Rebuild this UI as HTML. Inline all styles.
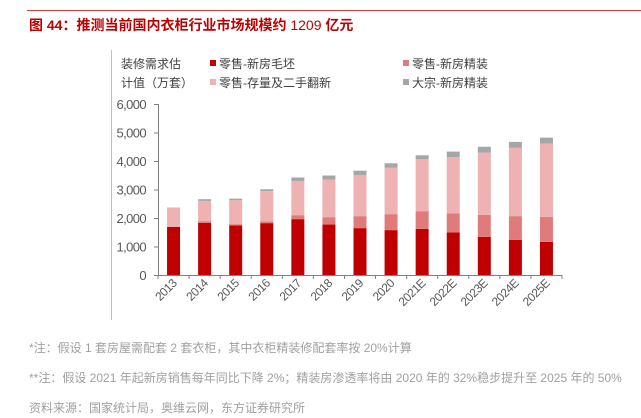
<!DOCTYPE html>
<html><head><meta charset="utf-8">
<style>
body{margin:0;width:641px;height:418px;background:#fff;overflow:hidden;font-family:"Liberation Sans","Noto Sans CJK SC",sans-serif;position:relative}
.t{position:absolute;white-space:nowrap}
</style></head><body>
<div style="position:absolute;left:27px;top:10px;width:614px;height:1px;background:#d9363e"></div>
<div class="t" style="left:29px;top:15px;font-size:14px;font-weight:bold;color:#c00000">图 44：推测当前国内衣柜行业市场规模约 <span style="font-weight:normal">1209</span> 亿元</div>
<svg width="641" height="418" style="position:absolute;left:0;top:0" id="svg"></svg>
<div class="t" style="left:29px;top:339px;font-size:12px;color:#a0a0a0">*注：假设 1 套房屋需配套 2 套衣柜，其中衣柜精装修配套率按 20%计算</div>
<div class="t" style="left:29px;top:369px;font-size:12px;color:#a0a0a0">**注：假设 2021 年起新房销售每年同比下降 2%；精装房渗透率将由 2020 年的 32%稳步提升至 2025 年的 50%</div>
<div class="t" style="left:29px;top:399px;font-size:12px;color:#a0a0a0">资料来源：国家统计局，奥维云网，东方证券研究所</div>
<script>
const categories=["2013","2014","2015","2016","2017","2018","2019","2020","2021E","2022E","2023E","2024E","2025E"];
const retailRaw=[1690,1830,1740,1820,1960,1770,1645,1575,1620,1495,1340,1235,1165];
const retailFinished=[0,60,45,60,140,260,420,560,620,665,770,830,875];
const retailRenovation=[680,710,840,1060,1200,1320,1445,1635,1820,1970,2180,2395,2570];
const bulkFinished=[0,60,55,70,120,140,150,150,140,200,210,210,210];
const yTicks=[0,1000,2000,3000,4000,5000,6000];
const yTickLabels=["0","1,000","2,000","3,000","4,000","5,000","6,000"];
const series=[
 {name:"零售-新房毛坯",vals:retailRaw,color:"#c00000"},
 {name:"零售-新房精装",vals:retailFinished,color:"#e07b7b"},
 {name:"零售-存量及二手翻新",vals:retailRenovation,color:"#efb2b2"},
 {name:"大宗-新房精装",vals:bulkFinished,color:"#a6a6a6"}];
const NS="http://www.w3.org/2000/svg";
const svg=document.getElementById('svg');
const X0=158,X1=562,Y0=275,Y6=104;
const y=v=>Y0-(v/6000)*(Y0-Y6);
const step=(X1-X0)/categories.length;
const xc=i=>X0+step*(i+0.5);
function mk(tag,attrs){const e=document.createElementNS(NS,tag);for(const k in attrs)e.setAttribute(k,attrs[k]);svg.appendChild(e);return e;}
let e=mk('line',{x1:111.5,y1:50,x2:111.5,y2:320,stroke:'#bfbfbf'});


// bars
categories.forEach((c,i)=>{let base=0;series.forEach((s,j)=>{const v=s.vals[i];if(v<=0)return;
 const r=mk('rect',{x:xc(i)-6.5,y:y(base+v),width:13,height:y(base)-y(base+v),fill:s.color});
 
 
 base+=v;});});
// axes
e=mk('line',{x1:X0+0.5,y1:Y6,x2:X0+0.5,y2:Y0,stroke:'#808080'});


e=mk('line',{x1:X0,y1:Y0+0.5,x2:X1,y2:Y0+0.5,stroke:'#808080'});


yTicks.forEach((t,i)=>{mk('line',{x1:X0-4,y1:y(t)+0.5,x2:X0,y2:y(t)+0.5,stroke:'#808080'});
 const tx=mk('text',{x:146,y:y(t)+5,'text-anchor':'end','font-size':13,fill:'#595959','letter-spacing':'-0.6'});
 tx.textContent=yTickLabels[i];
 
 });
for(let i=0;i<=categories.length;i++){const xx=X0+step*i;mk('line',{x1:xx,y1:Y0,x2:xx,y2:Y0+4,stroke:'#808080'});}
categories.forEach((c,i)=>{const tx=mk('text',{x:xc(i)+4,y:Y0+9,'text-anchor':'end','font-size':12,fill:'#595959','letter-spacing':'-0.5',transform:`rotate(-45 ${xc(i)+4} ${Y0+9})`});
 tx.textContent=c;
 
 });
// axis title
[["装修需求估",68],["计值（万套）",87]].forEach(([t,yy])=>{const tx=mk('text',{x:121,y:yy,'font-size':12,fill:'#404040'});tx.textContent=t;
 
 });
// legend
const lpos=[[210,64],[403,64],[210,83],[403,83]];
series.forEach((s,j)=>{const [lx,ly]=lpos[j];
 const r=mk('rect',{x:lx,y:ly-4,width:6,height:6,fill:s.color});
 
 
 const tx=mk('text',{x:lx+9,y:ly+4,'font-size':12,fill:'#404040'});tx.textContent=s.name;
 
 });
</script>
</body></html>
